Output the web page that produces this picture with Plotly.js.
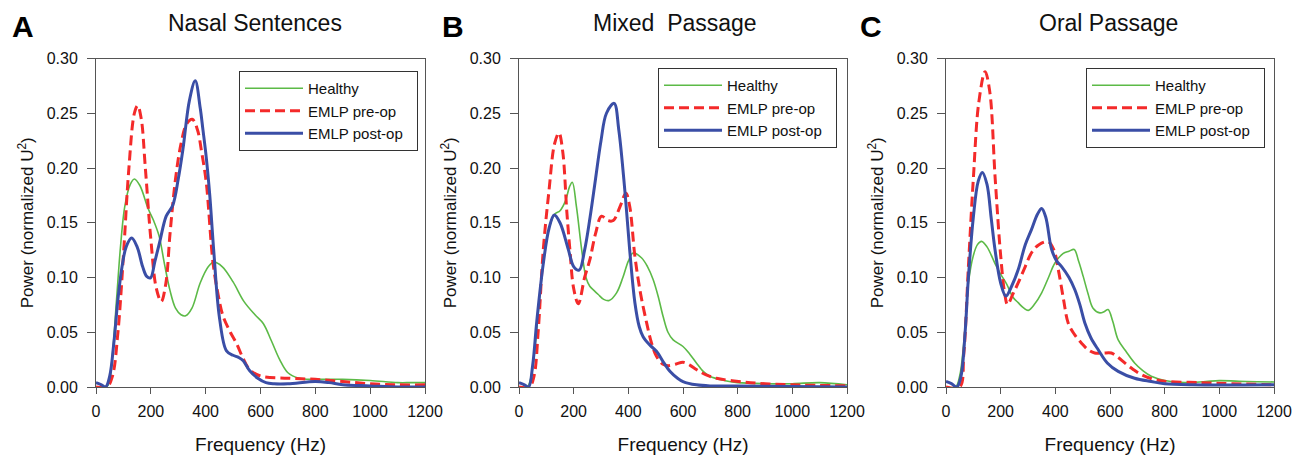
<!DOCTYPE html>
<html>
<head>
<meta charset="utf-8">
<script src="https://cdn.plot.ly/plotly-3.0.1.min.js"></script>
<style>html,body{margin:0;padding:0;background:#fff;}#chart{width:1296px;height:457px;}</style>
</head>
<body>
<div id="chart"></div>
<script>
// ---------- Data ----------
const panelTitles = ["Nasal Sentences", "Mixed  Passage", "Oral Passage"];
const panelLetters = ["A", "B", "C"];
const seriesNames = ["Healthy", "EMLP pre-op", "EMLP post-op"];

// Panel A: Nasal Sentences
const nasalHealthyHz  = [0,30,45,60,75,90,105,125,140,160,190,210,230,250,270,290,310,327,350,380,410,430,460,500,540,580,610,640,670,700,740,800,900,1000,1100,1150,1200];
const nasalHealthyPow = [0,0,0.002,0.03,0.08,0.13,0.165,0.185,0.19,0.184,0.163,0.152,0.138,0.112,0.088,0.072,0.066,0.065,0.072,0.095,0.11,0.114,0.11,0.096,0.078,0.066,0.058,0.042,0.025,0.013,0.008,0.007,0.007,0.006,0.004,0.004,0.004];
const nasalPreHz  = [0,40,60,80,100,120,140,152,165,180,200,220,238,255,270,290,310,330,351,370,385,402,427,445,463,490,512,535,560,600,700,800,900,1000,1100,1200];
const nasalPrePow = [0,0,0.01,0.05,0.12,0.2,0.25,0.257,0.245,0.2,0.135,0.09,0.078,0.095,0.14,0.19,0.222,0.24,0.2445,0.235,0.215,0.187,0.113,0.085,0.065,0.05,0.04,0.027,0.016,0.01,0.008,0.007,0.005,0.003,0.002,0.002];
const nasalPostHz  = [0,20,35,50,65,80,95,110,130,150,170,185,199,215,232,256,280,300,317,341,362,380,390,402,415,429,451,476,500,520,537,560,590,620,650,700,800,850,900,1000,1100,1200];
const nasalPostPow = [0.004,0.002,0,0.01,0.04,0.08,0.11,0.128,0.136,0.128,0.11,0.101,0.0997,0.115,0.132,0.156,0.166,0.19,0.217,0.262,0.2796,0.255,0.235,0.21,0.175,0.126,0.062,0.033,0.029,0.027,0.024,0.015,0.008,0.004,0.003,0.003,0.005,0.004,0.002,0.001,0,0];

// Panel B: Mixed Passage
const mixedHealthyHz  = [0,30,45,60,75,89,110,131,150,170,185,195,210,229,245,259,275,290,310,330,357,380,400,418,448,470,491,510,527,545,564,600,625,649,675,698,750,800,900,1000,1100,1200];
const mixedHealthyPow = [0,0,0.01,0.04,0.08,0.113,0.145,0.158,0.161,0.17,0.183,0.187,0.165,0.126,0.1,0.092,0.088,0.0845,0.08,0.079,0.086,0.1,0.115,0.1226,0.118,0.11,0.098,0.082,0.0646,0.05,0.043,0.037,0.03,0.022,0.014,0.0098,0.006,0.004,0.003,0.003,0.004,0.002];
const mixedPreHz  = [0,38,55,70,89,110,130,146,160,175,186,200,217,240,259,280,302,325,345,370,391,405,424,445,467,485,503,525,546,575,600,625,649,685,722,820,900,1000,1200];
const mixedPrePow = [0,0,0.01,0.05,0.126,0.18,0.222,0.232,0.215,0.16,0.126,0.09,0.076,0.1,0.116,0.14,0.156,0.152,0.152,0.165,0.177,0.165,0.1195,0.085,0.0585,0.04,0.028,0.021,0.0195,0.021,0.0226,0.02,0.016,0.011,0.008,0.0046,0.003,0.002,0.001];
const mixedPostHz  = [0,20,35,50,65,89,110,129,150,180,200,220,240,260,280,300,320,348,365,387,405,424,440,454,480,503,530,552,580,600,649,700,800,1200];
const mixedPostPow = [0.004,0.002,0,0.02,0.06,0.113,0.145,0.157,0.15,0.126,0.11,0.1067,0.125,0.155,0.19,0.225,0.25,0.259,0.235,0.18,0.125,0.077,0.055,0.046,0.038,0.0326,0.022,0.0143,0.008,0.005,0.002,0.001,0.001,0];

// Panel C: Oral Passage
const oralHealthyHz  = [0,35,50,65,82,100,115,130,150,179,200,222,245,264,285,301,325,350,375,398,429,450,469,485,502,520,538,563,580,593,610,630,660,690,720,751,800,873,950,1000,1100,1200];
const oralHealthyPow = [0,0,0.01,0.04,0.095,0.12,0.13,0.133,0.128,0.113,0.103,0.094,0.082,0.077,0.072,0.07,0.076,0.086,0.1,0.113,0.122,0.124,0.1256,0.115,0.101,0.085,0.072,0.0677,0.069,0.0707,0.06,0.043,0.032,0.022,0.015,0.0098,0.006,0.004,0.005,0.0058,0.005,0.0046];
const oralPreHz  = [0,50,65,82,100,120,143,160,180,200,215,225,245,264,290,313,340,374,395,411,430,447,470,496,520,544,575,605,630,654,685,715,760,812,934,1050,1200];
const oralPrePow = [0,0,0.03,0.11,0.19,0.26,0.288,0.27,0.19,0.12,0.085,0.0753,0.085,0.095,0.11,0.1226,0.13,0.1326,0.125,0.107,0.08,0.0585,0.048,0.04,0.034,0.031,0.031,0.031,0.027,0.022,0.016,0.0113,0.007,0.005,0.004,0.003,0.002];
const oralPostHz  = [0,20,40,55,70,82,100,118,133,150,165,179,200,219,240,264,290,313,335,350,365,386,405,423,450,471,490,508,530,557,590,630,690,751,800,900,1200];
const oralPostPow = [0.005,0.003,0,0.01,0.05,0.1,0.155,0.188,0.196,0.185,0.155,0.126,0.095,0.083,0.092,0.107,0.13,0.144,0.158,0.163,0.155,0.126,0.115,0.11,0.1,0.089,0.075,0.0585,0.045,0.034,0.022,0.0143,0.008,0.005,0.003,0.002,0.002];

const xTickVals = [0,200,400,600,800,1000,1200];
const yTickVals = [0,0.05,0.10,0.15,0.20,0.25,0.30];

// ---------- Styling ----------
const FONT = "Liberation Sans, Arial, sans-serif";
const W = 1296, H = 457;
const colors = ["#5cba47", "#f42a2a", "#3a4ea6"];
const widths = [1.6, 3, 3];
const dashes = ["solid", "10px,5px", "solid"];
const NBSP_PAD = "\u00a0\u00a0";

const panels = [
  [[nasalHealthyHz, nasalHealthyPow], [nasalPreHz, nasalPrePow], [nasalPostHz, nasalPostPow]],
  [[mixedHealthyHz, mixedHealthyPow], [mixedPreHz, mixedPrePow], [mixedPostHz, mixedPostPow]],
  [[oralHealthyHz, oralHealthyPow], [oralPreHz, oralPrePow], [oralPostHz, oralPostPow]]
];

const plotLeft = [96, 519, 946];
const plotRight = [425, 847, 1274];
const plotTop = 58.5, plotBottom = 387;
const legendRight = [418, 837, 1265];
const legendTop = [71, 68, 68];

const traces = [];
const layout = {
  width: W, height: H,
  margin: {l: 0, r: 0, t: 0, b: 0},
  paper_bgcolor: "#fff", plot_bgcolor: "#fff",
  font: {family: FONT, color: "#111", size: 15},
  showlegend: true,
  annotations: []
};

panels.forEach((series, p) => {
  const ax = p === 0 ? "" : String(p + 1);
  series.forEach((s, i) => {
    traces.push({
      type: "scatter", mode: "lines",
      x: s[0], y: s[1],
      name: seriesNames[i] + NBSP_PAD,
      xaxis: "x" + ax, yaxis: "y" + ax,
      legend: "legend" + ax,
      line: {color: colors[i], width: widths[i], dash: dashes[i], shape: "spline", smoothing: 1},
      hoverinfo: "skip"
    });
  });
  const axCommon = {
    showline: true, mirror: true, linecolor: "#555", linewidth: 1,
    ticks: "outside", tickcolor: "#555", tickwidth: 1,
    showgrid: false, zeroline: false,
    tickfont: {family: FONT, size: 16, color: "#111"}
  };
  layout["xaxis" + ax] = Object.assign({}, axCommon, {
    domain: [plotLeft[p] / W, plotRight[p] / W],
    anchor: "y" + ax, ticklen: 6, ticklabelstandoff: 4,
    range: [0, 1200], tickvals: xTickVals, ticktext: xTickVals.map(String),
    title: {text: "Frequency (Hz)", font: {family: FONT, size: 19, color: "#111"}, standoff: 18}
  });
  layout["yaxis" + ax] = Object.assign({}, axCommon, {
    domain: [(H - plotBottom) / H, (H - plotTop) / H],
    anchor: "x" + ax, ticklen: 8, ticklabelstandoff: 6,
    range: [0, 0.3], tickvals: yTickVals, ticktext: yTickVals.map(v => v.toFixed(2)),
    title: {text: "Power (normalized U<sup>2</sup>)", font: {family: FONT, size: 17, color: "#111"}, standoff: 8}
  });
  layout["legend" + ax] = {
    x: legendRight[p] / W, xanchor: "right",
    y: (H - legendTop[p]) / H, yanchor: "top",
    bgcolor: "#fff", bordercolor: "#333", borderwidth: 1,
    font: {family: FONT, size: 15, color: "#111"},
    itemwidth: 58, tracegroupgap: 0
  };
  layout.annotations.push({
    text: "<b>" + panelLetters[p] + "</b>", xref: "paper", yref: "paper",
    x: [10, 440, 858][p] / W, xanchor: "left", y: (H - 26) / H, yanchor: "middle",
    showarrow: false, font: {family: FONT, size: 30, color: "#000"}
  });
  layout.annotations.push({
    text: panelTitles[p], xref: "paper", yref: "paper",
    x: [255, 675, 1108][p] / W, xanchor: "center", y: (H - 23) / H, yanchor: "middle",
    showarrow: false, font: {family: FONT, size: 23, color: "#111"}
  });
});

Plotly.newPlot("chart", traces, layout, {displayModeBar: false, staticPlot: true});
</script>
</body>
</html>
